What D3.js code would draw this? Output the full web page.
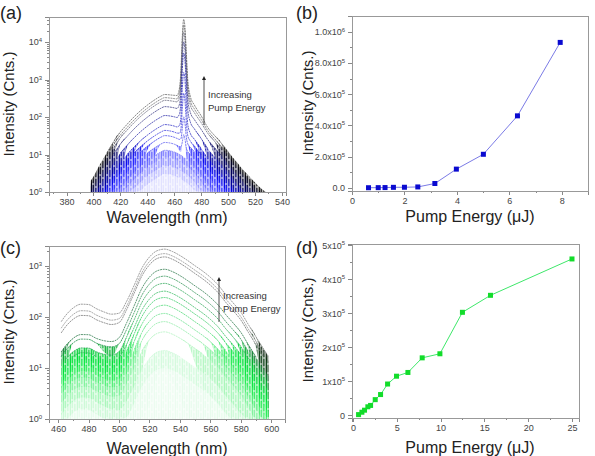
<!DOCTYPE html>
<meta charset="utf-8">
<style>
body { margin: 0; background: #fff; }
svg { font-family: "Liberation Sans", Arial, sans-serif; }
.axis path, .axis line { stroke: #888; shape-rendering: crispEdges; }
.axis text { fill: #444; font-size: 9px; }
.frame { fill: none; stroke: #999; shape-rendering: crispEdges; }
.title { fill: #222; }
</style>
<body>
<script src="https://d3js.org/d3.v7.min.js"></script>
<script>

// (a) blue emitter spectra: broad band + narrow ASE line, one amplitude pair per pump step
var aWavelengths = [398, 400, 405, 410, 415, 420, 425, 430, 435, 440, 445, 450, 453, 455, 460, 462, 464, 465, 466, 467,
                    468, 469, 470, 472, 475, 480, 485, 490, 495, 500, 505, 510, 515, 520, 525, 528];
var aBroadShape = [.005, .0065, .014, .028, .055, .1, .16, .25, .37, .52, .7, .9, 1.0, .99, .9, .84, .77, .73, .7, .66,
                   .63, .6, .56, .48, .37, .22, .13, .08, .05, .03, .018, .011, .007, .0045, .003, .0025];
var aNarrowShape = [0, 0, 0, 0, 0, 0, 0, 0, 0, 0, 0, 0, 0, 0, .0005, .001, .008, .04, .35, 1,
                    .6, .12, .02, .004, .0015, .0005, 0, 0, 0, 0, 0, 0, 0, 0, 0, 0];
var aBroadAmp = [400, 330, 280, 190, 110, 63, 44, 32, 21, 13, 8.5, 5, 3];
var aNarrowAmp = [40000, 28000, 18000, 10000, 5000, 1500, 400, 80, 20, 0, 0, 0, 0];

// (b) integrated intensity vs pump energy
var bEnergy = [0.63, 1.0, 1.26, 1.58, 2.0, 2.51, 3.16, 3.98, 5.01, 6.31, 7.94];
var bIntensity = [1000, 1500, 2000, 3500, 4000, 6000, 28000, 120000, 215000, 461000, 931000];

// (c) green emitter spectra: short band (~476 nm) + main band (~529 nm)
var cWavelengths = [462, 465, 470, 475, 480, 485, 490, 495, 500, 505, 510, 515, 520, 525, 530,
                    535, 540, 545, 550, 555, 560, 565, 570, 575, 580, 585, 590, 595, 598];
var cShortShape = [.45, .6, .85, 1.0, .97, .78, .62, .48, .33, .2, .1, .05, .025, .012, .006,
                   0, 0, 0, 0, 0, 0, 0, 0, 0, 0, 0, 0, 0, 0];
var cLongShape = [.003, .004, .005, .006, .007, .008, .011, .016, .03, .08, .19, .42, .7, .93, 1.0,
                  .9, .75, .6, .47, .37, .28, .2, .13, .088, .058, .033, .019, .011, .008];
var cShortAmp = [165, 122, 98, 40, 33, 22, 18, 13, 10, 8, 6, 4, 2.5, 1.5];
var cLongAmp = [2130, 1740, 1500, 860, 630, 455, 320, 240, 170, 117, 81, 51, 22, 10];

// (d) integrated intensity vs pump energy
var dEnergy = [0.65, 1.03, 1.33, 1.71, 2.02, 2.55, 3.16, 3.96, 4.98, 6.28, 7.91, 9.93, 12.5, 15.7, 25.0];
var dIntensity = [2000, 9000, 15000, 25000, 29000, 46000, 61000, 92000, 115000, 126000, 169000, 181000, 303000, 353000, 460000];

var aPalette = ["#555555", "#666666", "#5a5a70", "#2a2a7a", "#1a1aa0", "#1e1ec0", "#2a2ad8", "#3b3be6",
                "#5a5aee", "#7d7df2", "#a0a0f5", "#c4c4f8", "#e0e0fb"];
var aNoise = ["#000000", "#000010", "#00002a", "#000060", "#0000a0", "#0000d0", "#0a0af0", "#2a2aff",
              "#4b4bff", "#7070ff", "#9c9cff", "#c4c4ff", "#e4e4ff"];
var cPalette = ["#777777", "#888888", "#6a6a6a", "#1b6e3c", "#1f8a48", "#1fa24c", "#22b452", "#28c85a",
                "#3cd668", "#5fe085", "#85ea9f", "#aaf2ba", "#cdf8d8", "#e8fced"];
var cNoise = ["#062008", "#0a3010", "#0e4418", "#08802a", "#04b030", "#00d034", "#00e038", "#10e846",
              "#30ec5c", "#5cf07e", "#88f2a2", "#aef6be", "#d0f9da", "#eafcee"];

var svg = d3.select("body").append("svg")
    .attr("width", 595)
    .attr("height", 456);

var defs = svg.append("defs");
defs.append("marker")
    .attr("id", "arrow")
    .attr("viewBox", "0 0 6 6")
    .attr("refX", 3).attr("refY", 3)
    .attr("markerWidth", 5).attr("markerHeight", 5)
    .attr("orient", "auto")
  .append("path")
    .attr("d", "M0,0L6,3L0,6Z")
    .attr("fill", "#222");

// streaky texture used as a mask for the noisy low-count floor
var streaks = defs.append("pattern")
    .attr("id", "streaks")
    .attr("patternUnits", "userSpaceOnUse")
    .attr("width", 7).attr("height", 9);
[[0, 1], [1, .55], [2, .9], [3, .35], [4, .8], [5, .6], [6, .45]].forEach(function(s) {
  streaks.append("rect").attr("x", s[0]).attr("y", 0).attr("width", 1).attr("height", 9)
      .attr("fill", "#fff").attr("fill-opacity", s[1]);
});
streaks.append("rect").attr("x", 1).attr("y", 3).attr("width", 2).attr("height", 2).attr("fill", "#000").attr("fill-opacity", .45);
streaks.append("rect").attr("x", 4).attr("y", 6).attr("width", 2).attr("height", 2).attr("fill", "#000").attr("fill-opacity", .45);
defs.append("mask").attr("id", "streakMask")
    .attr("maskUnits", "userSpaceOnUse")
    .attr("x", 0).attr("y", 0).attr("width", 595).attr("height", 456)
  .append("rect")
    .attr("width", 595).attr("height", 456)
    .attr("fill", "url(#streaks)");

function supLabel(sel, base, exp) {
  sel.text(null);
  sel.append("tspan").text(base);
  if (exp !== null) {
    sel.append("tspan").attr("dy", "-0.55em").style("font-size", "6px").text(exp);
  }
}

function buildSeries(waves, shape1, shape2, amp1, amp2) {
  return amp1.map(function(a, k) {
    return waves.map(function(w, i) {
      return {w: w, v: a * shape1[i] + amp2[k] * shape2[i]};
    });
  });
}

function spectrumPanel(o) {
  var x = d3.scaleLinear().domain(o.xDomain).range([o.left, o.right]);
  var y = d3.scaleLog().domain(o.yDomain).range([o.bottom, o.top]).clamp(true);

  defs.append("clipPath").attr("id", o.id)
    .append("rect")
    .attr("x", o.left).attr("y", o.top)
    .attr("width", o.right - o.left).attr("height", o.bottom - o.top);

  var g = svg.append("g").attr("clip-path", "url(#" + o.id + ")");

  // noise band: reaches the floor at low counts, closes up as the signal rises
  function floorOf(v) {
    return Math.max(1, Math.min(v, v * Math.pow(v / o.cap, 3)));
  }
  var area = d3.area()
      .x(function(d) { return x(d.w); })
      .y0(function(d) { return y(floorOf(d.v)); })
      .y1(function(d) { return y(Math.max(d.v, 1)); })
      .curve(d3.curveMonotoneX);

  var line = d3.line()
      .defined(function(d) { return d.v >= o.cap * 0.5; })
      .x(function(d) { return x(d.w); })
      .y(function(d) { return y(Math.max(d.v, 1)); })
      .curve(d3.curveMonotoneX);

  g.append("g").attr("mask", "url(#streakMask)")
    .selectAll("path")
      .data(o.series)
    .enter().append("path")
      .attr("d", area)
      .attr("fill", function(d, i) { return o.noise[i]; })
      .attr("opacity", 0.9);

  g.append("g")
    .selectAll("path")
      .data(o.series)
    .enter().append("path")
      .attr("d", line)
      .attr("fill", "none")
      .attr("stroke", function(d, i) { return o.palette[i]; })
      .attr("stroke-width", 0.7)
      .attr("stroke-dasharray", "2,0.7");

  var xAxis = d3.axisBottom(x).tickValues(o.xTicks).tickSize(4).tickPadding(3).tickFormat(d3.format("d"));
  var xMinor = d3.axisBottom(x).tickValues(o.xMinor).tickSize(2).tickFormat("");
  svg.append("g").attr("class", "axis").attr("transform", "translate(0," + o.bottom + ")").call(xMinor);
  svg.append("g").attr("class", "axis").attr("transform", "translate(0," + o.bottom + ")").call(xAxis);

  var majors = o.decades.map(function(e) { return Math.pow(10, e); });
  var minors = [];
  o.decades.forEach(function(e) {
    for (var m = 2; m < 10; m++) {
      var v = m * Math.pow(10, e);
      if (v <= o.yDomain[1]) minors.push(v);
    }
  });
  svg.append("g").attr("class", "axis").attr("transform", "translate(" + o.left + ",0)")
      .call(d3.axisLeft(y).tickValues(minors).tickSize(2).tickFormat(""));
  svg.append("g").attr("class", "axis").attr("transform", "translate(" + o.left + ",0)")
      .call(d3.axisLeft(y).tickValues(majors).tickSize(4).tickPadding(3).tickFormat(""))
    .selectAll(".tick text")
      .each(function(d) { supLabel(d3.select(this), "10", String(Math.round(Math.log10(d)))); });

  svg.append("rect").attr("class", "frame")
      .attr("x", o.left).attr("y", o.top)
      .attr("width", o.right - o.left).attr("height", o.bottom - o.top);

  // annotation
  svg.append("line")
      .attr("x1", o.arrowX).attr("x2", o.arrowX)
      .attr("y1", o.arrowY0).attr("y2", o.arrowY1)
      .attr("stroke", "#222").attr("stroke-width", 0.8)
      .attr("marker-end", "url(#arrow)");
  svg.append("text").attr("x", o.arrowX + 4).attr("y", o.arrowY1 + 20)
      .style("font-size", "9.5px").attr("fill", "#333").text("Increasing");
  svg.append("text").attr("x", o.arrowX + 4).attr("y", o.arrowY1 + 33)
      .style("font-size", "9.5px").attr("fill", "#333").text("Pump Energy");
}

function powerPanel(o) {
  var x = d3.scaleLinear().domain(o.xDomain).range([o.left, o.right]);
  var y = d3.scaleLinear().domain(o.yDomain).range([o.bottom, o.top]);

  svg.append("g").attr("class", "axis").attr("transform", "translate(0," + o.bottom + ")")
      .call(d3.axisBottom(x).tickValues(o.xMinor).tickSize(2).tickFormat(""));
  svg.append("g").attr("class", "axis").attr("transform", "translate(0," + o.bottom + ")")
      .call(d3.axisBottom(x).tickValues(o.xTicks).tickSize(4).tickPadding(3).tickFormat(d3.format("d")));
  svg.append("g").attr("class", "axis").attr("transform", "translate(" + o.left + ",0)")
      .call(d3.axisLeft(y).tickValues(o.yMinor).tickSize(2).tickFormat(""));
  svg.append("g").attr("class", "axis").attr("transform", "translate(" + o.left + ",0)")
      .call(d3.axisLeft(y).tickValues(o.yTicks).tickSize(4).tickPadding(3).tickFormat(""))
    .selectAll(".tick text")
      .each(function(d) { o.label(d3.select(this), d); });

  svg.append("rect").attr("class", "frame")
      .attr("x", o.left).attr("y", o.top)
      .attr("width", o.right - o.left).attr("height", o.bottom - o.top);

  var pts = o.xs.map(function(v, i) { return [v, o.ys[i]]; });
  svg.append("path")
      .attr("d", d3.line().x(function(d) { return x(d[0]); }).y(function(d) { return y(d[1]); })(pts))
      .attr("fill", "none")
      .attr("stroke", o.lineColor)
      .attr("stroke-width", 1);
  svg.selectAll(null)
      .data(pts)
    .enter().append("rect")
      .attr("x", function(d) { return x(d[0]) - 2.5; })
      .attr("y", function(d) { return y(d[1]) - 2.5; })
      .attr("width", 5).attr("height", 5)
      .attr("fill", o.dotColor);
}

function titles(xT, xX, xY, yT, yX, yY, letter, lX, lY) {
  svg.append("text").attr("class", "title")
      .attr("x", xX).attr("y", xY).attr("text-anchor", "middle")
      .style("font-size", "16px").text(xT);
  svg.append("text").attr("class", "title")
      .attr("transform", "translate(" + yX + "," + yY + ") rotate(-90)")
      .attr("text-anchor", "middle")
      .style("font-size", "15px").text(yT);
  svg.append("text").attr("class", "title")
      .attr("x", lX).attr("y", lY)
      .style("font-size", "18px").text(letter);
}

spectrumPanel({
  id: "clipA", left: 49, right: 286, top: 17, bottom: 192,
  xDomain: [367, 543], yDomain: [1, Math.pow(10, 4.67)],
  xTicks: d3.range(380, 541, 20), xMinor: d3.range(370, 541, 10),
  decades: [0, 1, 2, 3, 4],
  series: buildSeries(aWavelengths, aBroadShape, aNarrowShape, aBroadAmp, aNarrowAmp),
  palette: aPalette, noise: aNoise, cap: 18,
  arrowX: 204, arrowY0: 125, arrowY1: 78
});

spectrumPanel({
  id: "clipC", left: 49, right: 285, top: 246, bottom: 419,
  xDomain: [454, 609], yDomain: [1, Math.pow(10, 3.39)],
  xTicks: d3.range(460, 601, 20), xMinor: d3.range(470, 601, 20),
  decades: [0, 1, 2, 3],
  series: buildSeries(cWavelengths, cShortShape, cLongShape, cShortAmp, cLongAmp),
  palette: cPalette, noise: cNoise, cap: 30,
  arrowX: 219, arrowY0: 322, arrowY1: 279
});

powerPanel({
  left: 352, right: 588, top: 16, bottom: 191,
  xDomain: [0, 9], yDomain: [-20000, 1100000],
  xTicks: [0, 2, 4, 6, 8], xMinor: [1, 3, 5, 7, 9],
  yTicks: [0, 200000, 400000, 600000, 800000, 1000000],
  yMinor: [100000, 300000, 500000, 700000, 900000],
  xs: bEnergy, ys: bIntensity,
  lineColor: "#7b7be6", dotColor: "#0a0ad0",
  label: function(sel, d) {
    if (d === 0) { sel.text("0.0"); return; }
    if (d >= 1000000) { supLabel(sel, (d / 1000000).toFixed(1) + "x10", "6"); return; }
    supLabel(sel, (d / 100000).toFixed(1) + "x10", "5");
  }
});

powerPanel({
  left: 352, right: 579, top: 244, bottom: 418,
  xDomain: [-0.1, 25.8], yDomain: [-8000, 504000],
  xTicks: [0, 5, 10, 15, 20, 25], xMinor: [2.5, 7.5, 12.5, 17.5, 22.5],
  yTicks: [0, 100000, 200000, 300000, 400000, 500000],
  yMinor: [50000, 150000, 250000, 350000, 450000],
  xs: dEnergy, ys: dIntensity,
  lineColor: "#3ee86a", dotColor: "#12dc2a",
  label: function(sel, d) {
    if (d === 0) { sel.text("0"); return; }
    supLabel(sel, (d / 100000) + "x10", "5");
  }
});

titles("Wavelength (nm)", 167, 223, "Intensity (Cnts.)", 14, 104, "(a)", 0, 19);
titles("Pump Energy (\u03bcJ)", 470, 222, "Intensity (Cnts.)", 313, 103, "(b)", 296, 19);
titles("Wavelength (nm)", 167, 454, "Intensity (Cnts.)", 14, 332, "(c)", 0, 254);
titles("Pump Energy (\u03bcJ)", 470, 453, "Intensity (Cnts.)", 313, 330, "(d)", 296, 254);

</script>
